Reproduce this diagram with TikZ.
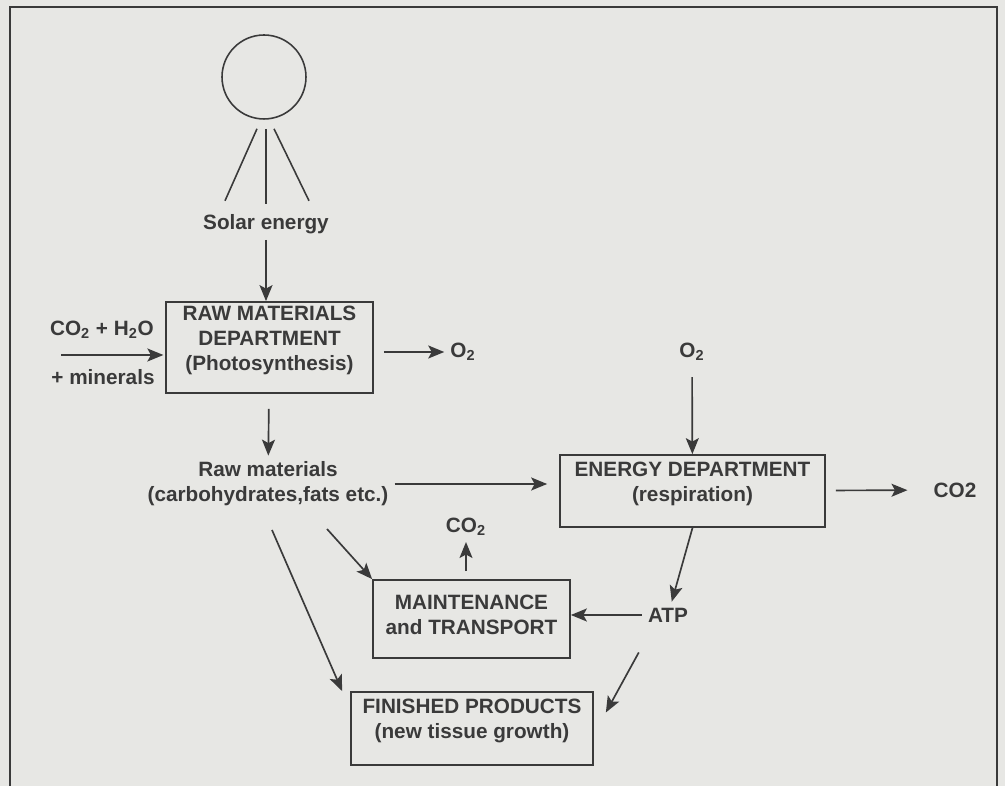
\documentclass[tikz,border=0pt]{standalone}
\usepackage{fontspec}
\setmainfont{Liberation Sans}
\usetikzlibrary{positioning, arrows.meta}
\definecolor{paper}{RGB}{231,231,228}
\definecolor{ink}{RGB}{58,58,58}

\begin{document}
\begin{tikzpicture}[x=0.02cm, y=-0.02cm,
	every node/.style={font=\bfseries\fontsize{11.8}{14.2}\selectfont, text=ink, align=center},
	dept/.style={draw=ink, line width=1pt, inner sep=0pt, text depth=11pt},
	flow/.style={draw=ink, line width=0.95pt, -{Stealth[length=3.2mm,width=2.6mm,inset=0.7mm]}},
	ray/.style={draw=ink, line width=0.9pt}]

			\fill[paper] (0,0) rectangle (1005,786);
			\useasboundingbox (0,0) rectangle (1005,786);
			\draw[ink, line width=1.3pt] (10,786) -- (10,7) -- (997,7) -- (997,786);

			% the sun
			\node[draw=ink, circle, line width=0.9pt, minimum size=1.68cm, inner sep=0pt] (sun) at (264,77) {};
			\draw[ray] ([shift={(-7,9)}]sun.south) -- ++(-32,72);
			\draw[ray] ([shift={(2,9)}]sun.south) -- ++(0,75);
			\draw[ray] ([shift={(10,9)}]sun.south) -- ++(35,72);

			\node (solar) at (266,224) {Solar energy};
			\node[dept, minimum width=4.14cm, minimum height=1.82cm] (raw) at (269.5,347.5)
				{RAW MATERIALS\\DEPARTMENT\\(Photosynthesis)};
			\node (co2in) at (102,330) {CO\textsubscript{2} + H\textsubscript{2}O};
			\node (minerals) at (103,377) {+ minerals};
			\coordinate (inflow) at (61,355);
			\node (o2out) at (463,352) {O\textsubscript{2}};
			\node (rawmat) at (268,484) {Raw materials\\(carbohydrates,fats etc.)};

			\node (o2in) at (692,352) {O\textsubscript{2}};
			\node[dept, minimum width=5.3cm, minimum height=1.44cm] (energy) at (692.5,491)
				{ENERGY DEPARTMENT\\(respiration)};
			\node (co2out) at (955,490) {CO2};
			\node (atp) at (668,615) {ATP};

			\node[dept, text depth=5pt, minimum width=3.94cm, minimum height=1.56cm] (maint) at (471.5,619)
				{MAINTENANCE\\and TRANSPORT};
			\node (co2m) at (466,527) {CO\textsubscript{2}};
			\node[dept, minimum width=4.84cm, minimum height=1.46cm] (finished) at (472,728.5)
				{FINISHED PRODUCTS\\(new tissue growth)};

			\path[every edge/.style={flow}]
			(solar) edge (solar |- raw.north)
			(inflow) edge[shorten >=1pt] (inflow -| raw.west)
			(raw.east |- o2out) edge[shorten <=2mm] (o2out)
			(raw) edge[shorten <=3mm] (rawmat)
			(rawmat) edge[shorten >=2.4mm] (rawmat -| energy.west)
			(o2in) edge[shorten <=2mm] (energy)
			(energy) edge[shorten <=2mm, shorten >=4mm] (co2out)
			(energy.south) edge (atp)
			(atp) edge (atp -| maint.east)
			([shift={(-16,0)}]atp.south) edge[shorten <=5.5mm] ([shift={(12,-16)}]finished.east)
			([shift={(59,45)}]rawmat.center) edge (maint.north west)
			([shift={(4,46)}]rawmat.center) edge ([shift={(-8,0)}]finished.north west)
			(maint.north -| co2m) edge[shorten <=1.6mm] (co2m);
		\end{tikzpicture}
\end{document}
